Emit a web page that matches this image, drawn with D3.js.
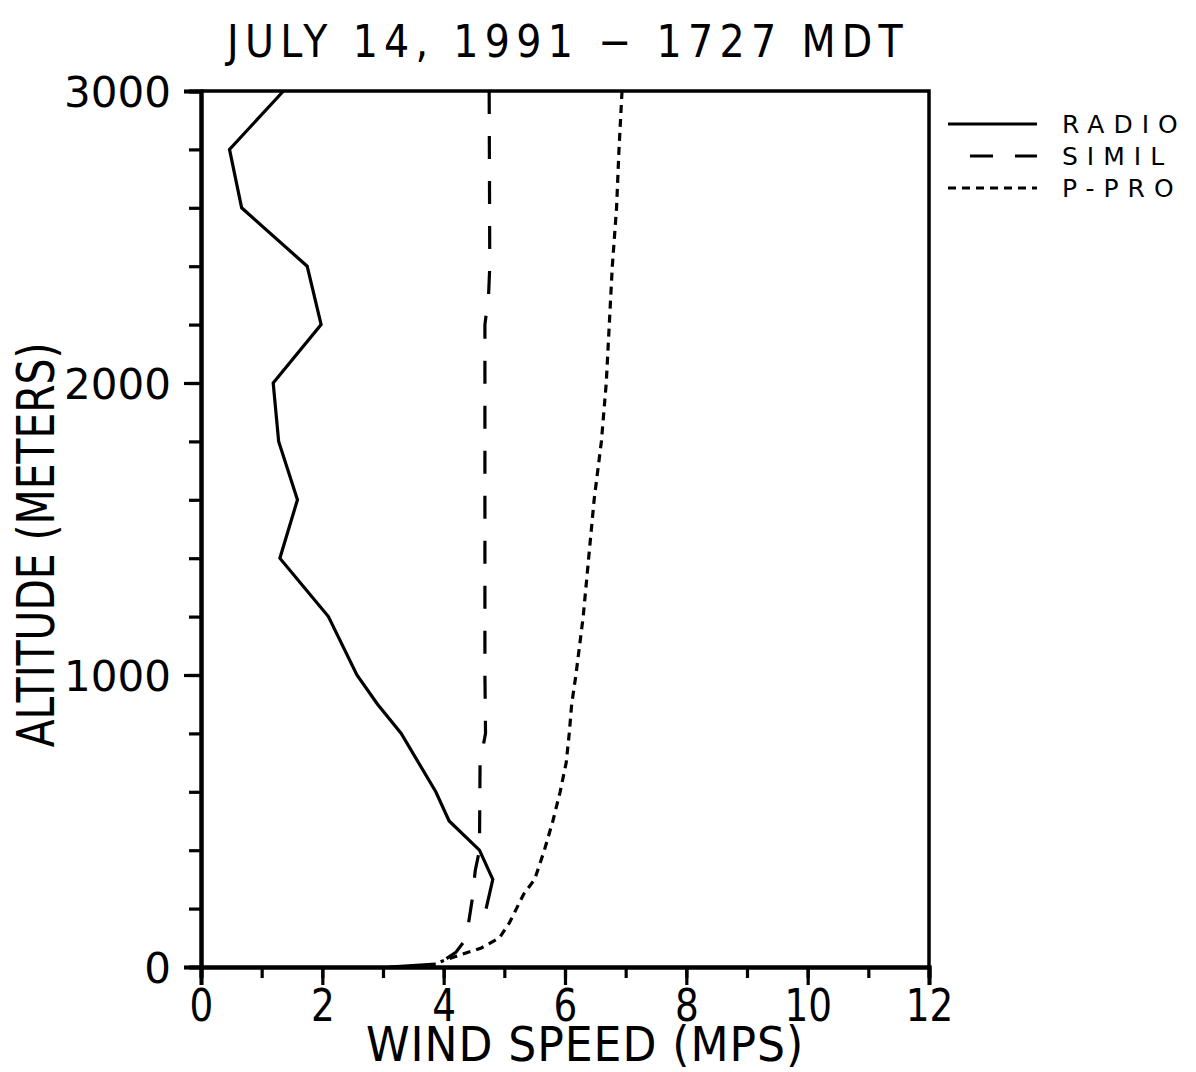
<!DOCTYPE html>
<html lang="en">
  <head>
    <meta charset="utf-8">
    <title>Wind speed profile</title>
    <script type="text/javascript" src="https://cdn.jsdelivr.net/npm/d3@7/dist/d3.min.js"></script>
    <style>
      body { margin: 0; background: #fff; }
    </style>
  </head>
  <body>
    <script type="text/javascript">
      // data: altitude (m) and wind speed (m/s)
      var radioAlt   = [3000, 2800, 2600, 2400, 2200, 2000, 1800, 1600, 1400, 1200, 1000, 900, 800, 600, 500, 400, 300, 200, 100, 10, 0];
      var radioSpeed = [1.36, 0.47, 0.67, 1.75, 1.98, 1.19, 1.28, 1.59, 1.30, 2.10, 2.57, 2.91, 3.30, 3.87, 4.09, 4.59, 4.81, 4.70, null, 3.87, 3.10];

      var similAlt   = [3000, 2400, 2300, 2200, 1000, 800, 700, 400, 330, 230, 150, 100, 50, 15];
      var similSpeed = [4.75, 4.76, 4.74, 4.68, 4.68, 4.69, 4.60, 4.59, 4.52, 4.47, 4.41, 4.38, 4.20, 3.95];

      var pproAlt   = [3000, 2800, 2600, 2400, 2200, 2000, 1800, 1600, 1400, 1200, 1000, 900, 800, 700, 600, 500, 400, 300, 250, 200, 150, 100, 65, 40, 18];
      var pproSpeed = [6.94, 6.89, 6.85, 6.78, 6.73, 6.68, 6.60, 6.48, 6.39, 6.30, 6.18, 6.11, 6.07, 6.02, 5.92, 5.80, 5.66, 5.50, 5.32, 5.20, 5.08, 4.92, 4.62, 4.25, 3.95];

      var xTickLabels = [0, 2, 4, 6, 8, 10, 12];
      var yTickLabels = [0, 1000, 2000, 3000];
      var seriesNames = ["RADIO", "SIMIL", "P-PRO"];
      var seriesDash  = [null, "23,22", "8,6"];

      var w = 1196;
      var h = 1072;
      var plotLeft = 201, plotRight = 929, plotTop = 91, plotBottom = 967;

      var svg = d3.select("body")
                  .append("svg")
                  .attr("width", w)
                  .attr("height", h);

      var xScale = d3.scaleLinear().domain([0, 12]).range([plotLeft, plotRight]);
      var yScale = d3.scaleLinear().domain([0, 3000]).range([plotBottom, plotTop]);

      var font = "'DejaVu Sans', sans-serif";

      // frame (top and right sides)
      svg.append("path")
         .attr("d", "M" + plotLeft + "," + plotTop + "H" + plotRight + "V" + plotBottom)
         .attr("fill", "none")
         .attr("stroke", "black")
         .attr("stroke-width", 3.5);

      // minor ticks
      svg.append("g")
         .attr("transform", "translate(0," + plotBottom + ")")
         .call(d3.axisBottom(xScale).tickValues(d3.range(0, 13, 1)).tickSize(11).tickFormat(""));
      svg.append("g")
         .attr("transform", "translate(" + plotLeft + ",0)")
         .call(d3.axisLeft(yScale).tickValues(d3.range(0, 3001, 200)).tickSize(12).tickFormat(""));

      // major ticks with labels
      var xAxis = svg.append("g")
         .attr("transform", "translate(0," + plotBottom + ")")
         .call(d3.axisBottom(xScale).tickValues(xTickLabels).tickSize(18).tickPadding(5));
      xAxis.selectAll("text")
         .attr("font-family", font)
         .attr("font-size", 44)
         .attr("dy", "0.71em")
         .attr("transform", "scale(0.85,1)");

      var yAxis = svg.append("g")
         .attr("transform", "translate(" + plotLeft + ",0)")
         .call(d3.axisLeft(yScale).tickValues(yTickLabels).tickSize(17).tickPadding(13).tickFormat(d3.format("d")));
      yAxis.selectAll("text")
         .attr("font-family", font)
         .attr("font-size", 42)
         .attr("dy", "0.36em");

      svg.selectAll(".domain, .tick line")
         .attr("stroke", "black")
         .attr("stroke-width", 3.2);
      svg.selectAll(".domain").attr("stroke-width", 4);

      var line = d3.line()
                   .defined(function (d) { return d.speed !== null; })
                   .x(function (d) { return xScale(d.speed); })
                   .y(function (d) { return yScale(d.alt); });

      function pairs(alt, speed) {
        return alt.map(function (a, i) { return { alt: a, speed: speed[i] }; });
      }

      var series = [pairs(radioAlt, radioSpeed), pairs(similAlt, similSpeed), pairs(pproAlt, pproSpeed)];

      svg.selectAll("path.series")
         .data(series)
         .enter()
         .append("path")
         .attr("class", "series")
         .attr("d", line)
         .attr("fill", "none")
         .attr("stroke", "black")
         .attr("stroke-width", 3.2)
         .attr("stroke-dasharray", function (d, i) { return seriesDash[i]; });

      // legend
      var legend = svg.selectAll("g.legend")
         .data(seriesNames)
         .enter()
         .append("g")
         .attr("class", "legend")
         .attr("transform", function (d, i) { return "translate(0," + (124 + i * 32) + ")"; });

      legend.append("line")
         .attr("x1", function (d, i) { return i === 1 ? 970 : 948; })
         .attr("x2", 1037)
         .attr("stroke", "black")
         .attr("stroke-width", 3.2)
         .attr("stroke-dasharray", function (d, i) { return seriesDash[i]; });

      legend.append("text")
         .attr("x", 1062)
         .attr("dy", "0.36em")
         .attr("font-family", font)
         .attr("font-size", 25)
         .attr("letter-spacing", 9)
         .text(function (d) { return d; });

      // titles
      svg.append("text")
         .attr("transform", "translate(568,57) scale(0.9,1)")
         .attr("text-anchor", "middle")
         .attr("font-family", font)
         .attr("font-size", 44)
         .attr("letter-spacing", 7)
         .text("JULY 14, 1991 \u2212 1727 MDT");

      svg.append("text")
         .attr("transform", "translate(585,1061) scale(0.92,1)")
         .attr("text-anchor", "middle")
         .attr("font-family", font)
         .attr("font-size", 48)
         .attr("letter-spacing", 1)
         .text("WIND SPEED (MPS)");

      svg.append("text")
         .attr("transform", "translate(54,545) rotate(-90) scale(0.8,1)")
         .attr("text-anchor", "middle")
         .attr("font-family", font)
         .attr("font-size", 51)
         .text("ALTITUDE (METERS)");
    </script>
  </body>
</html>
